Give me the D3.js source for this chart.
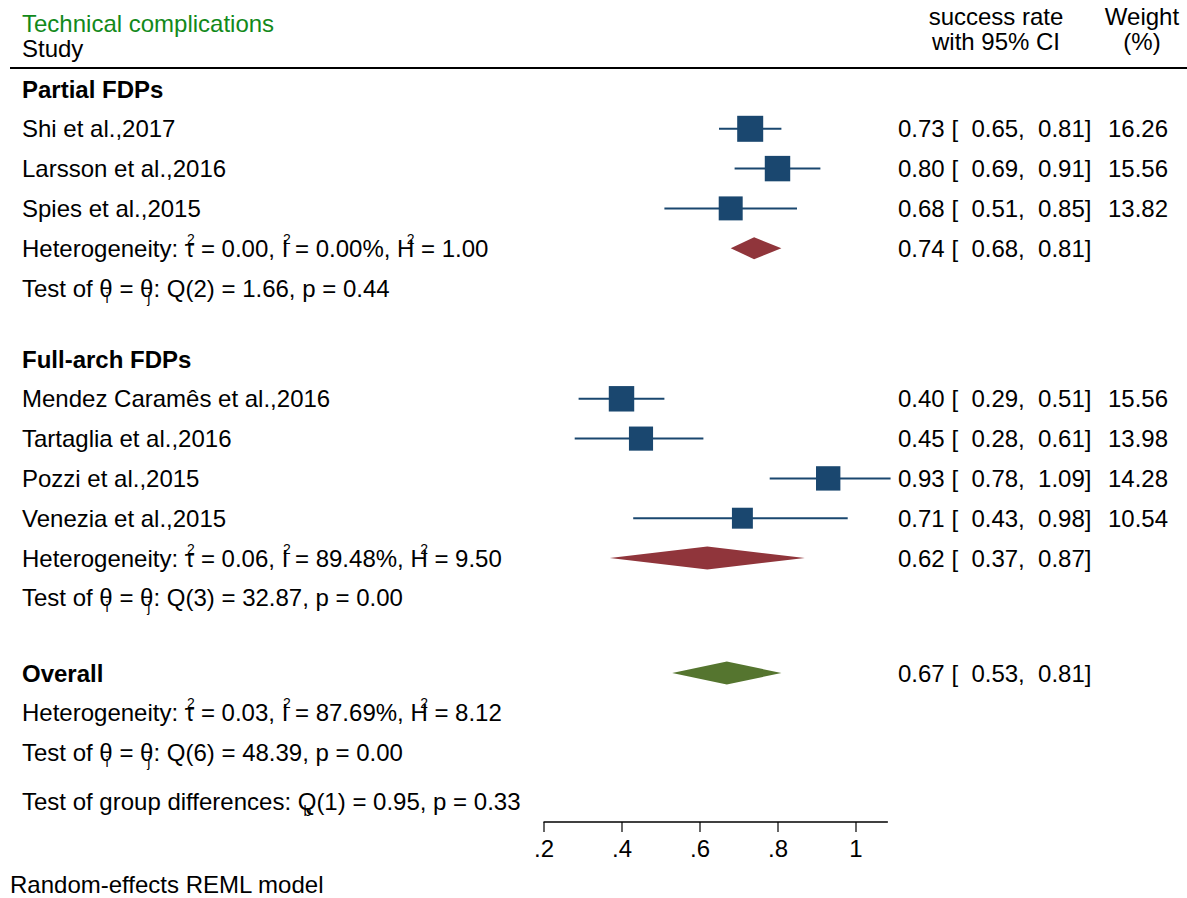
<!DOCTYPE html>
<html><head><meta charset="utf-8">
<script src="https://cdn.jsdelivr.net/npm/d3@7"></script>
<style>
body{margin:0;background:#fff}
text{font-family:"Liberation Sans",Arial,Helvetica,sans-serif;fill:#000;white-space:pre}
</style>
</head><body>
<svg id="chart" width="1187" height="898"></svg>
<script>
// ---- data ----
const studies = ["Shi et al.,2017","Larsson et al.,2016","Spies et al.,2015",
  "Mendez Caramês et al.,2016","Tartaglia et al.,2016","Pozzi et al.,2015","Venezia et al.,2015"];
const studyGroup = [0,0,0,1,1,1,1];
const successRate = [0.73,0.80,0.68,0.40,0.45,0.93,0.71];
const ciLower = [0.65,0.69,0.51,0.29,0.28,0.78,0.43];
const ciUpper = [0.81,0.91,0.85,0.51,0.61,1.09,0.98];
const weights = [16.26,15.56,13.82,15.56,13.98,14.28,10.54];

const groups = ["Partial FDPs","Full-arch FDPs"];
const groupRate = [0.74,0.62];
const groupLower = [0.68,0.37];
const groupUpper = [0.81,0.87];
const groupTau2 = ["0.00","0.06"];
const groupI2 = ["0.00%","89.48%"];
const groupH2 = ["1.00","9.50"];
const groupQdf = ["2","3"];
const groupQ = ["1.66","32.87"];
const groupP = ["0.44","0.00"];

const overallRate = 0.67, overallLower = 0.53, overallUpper = 0.81;
const overallTau2 = "0.03", overallI2 = "87.69%", overallH2 = "8.12";
const overallQdf = "6", overallQ = "48.39", overallP = "0.00";
const diffQdf = "1", diffQ = "0.95", diffP = "0.33";

const axisTicks = [0.2,0.4,0.6,0.8,1];
const tickLabels = [".2",".4",".6",".8","1"];

// ---- layout ----
const svg = d3.select("#chart");
const FS = 24, SS = 14;
const navy = "#1a476f", maroon = "#90353b", olive = "#55752f", titleGreen = "#12891a";
const x = d3.scaleLinear().domain([0.2, 1.0]).range([543.5, 855.5]);
const axisEnd = 1.083;
const rowStep = 39.8;
const groupTop = [89, 359];
const overallY = 673;
const textX = 22, valueX = 898, weightX = 1168;
const fmt = d3.format(".2f");
const base = y => y + 8.5;

function plain(txt, xx, baseline, opts = {}) {
  const t = svg.append("text").attr("x", xx).attr("y", baseline)
    .attr("font-size", opts.size || FS).text(txt);
  if (opts.anchor) t.attr("text-anchor", opts.anchor);
  if (opts.bold) t.attr("font-weight", "bold");
  if (opts.fill) t.style("fill", opts.fill);
  return t;
}
const row = (txt, xx, y, opts) => plain(txt, xx, base(y), opts);

// rich text: segments of {t}, {sup, w} (placed over preceding glyph of width w), {sub}
function rich(segs, xx, y) {
  const t = svg.append("text").attr("x", xx).attr("y", base(y)).attr("font-size", FS);
  let pendingDy = 0, pendingDx = 0;
  segs.forEach(s => {
    if (s.t !== undefined) {
      t.append("tspan").attr("dx", pendingDx).attr("dy", pendingDy).text(s.t);
      pendingDy = 0; pendingDx = 0;
    } else if (s.sup !== undefined) {
      const sw = 7.8;
      t.append("tspan").attr("font-size", SS)
        .attr("dx", -(s.w / 2 + sw / 2) + (s.off || 0)).attr("dy", -13).text(s.sup);
      pendingDy = 13; pendingDx = s.w / 2 - sw / 2 - (s.off || 0);
    } else if (s.sub !== undefined) {
      const sw = s.sw;
      t.append("tspan").attr("font-size", SS)
        .attr("dx", -sw - s.back).attr("dy", 6).text(s.sub);
      pendingDy = -6; pendingDx = s.back;
    }
  });
  return t;
}

function hetLine(tau2, i2, h2, y) {
  rich([{t: "Heterogeneity: τ"}, {sup: "2", w: 10.5, off: 2},
        {t: " = " + tau2 + ", I"}, {sup: "2", w: 6.7, off: 2},
        {t: " = " + i2 + ", H"}, {sup: "2", w: 17.3, off: 5},
        {t: " = " + h2}], textX, y);
}
function testLine(df, q, p, y) {
  rich([{t: "Test of θ"}, {sub: "i", sw: 3.1, back: 4},
        {t: " = θ"}, {sub: "j", sw: 3.1, back: 3},
        {t: ": Q(" + df + ") = " + q + ", p = " + p}], textX, y);
}
function ciText(r, lo, hi) {
  return fmt(r) + " [  " + fmt(lo) + ",  " + fmt(hi) + "]";
}
function diamond(r, lo, hi, y, color, hh) {
  const pts = [[x(lo), y], [x(r), y - hh], [x(hi), y], [x(r), y + hh]];
  svg.append("path").attr("d", d3.line()(pts) + "Z").attr("fill", color);
}

// ---- header ----
plain("Technical complications", textX, 31.5, {fill: titleGreen});
plain("Study", textX, 56.5);
plain("success rate", 996, 25, {anchor: "middle"});
plain("with 95% CI", 996, 50, {anchor: "middle"});
plain("Weight", 1142, 25, {anchor: "middle"});
plain("(%)", 1142, 50, {anchor: "middle"});
svg.append("line").attr("x1", 10).attr("x2", 1187).attr("y1", 68).attr("y2", 68)
  .attr("stroke", "#000").attr("stroke-width", 2);

// ---- groups ----
const sideK = 6.45;
groups.forEach((g, gi) => {
  const top = groupTop[gi];
  row(g, textX, top, {bold: true});
  const idx = d3.range(studies.length).filter(i => studyGroup[i] === gi);
  idx.forEach((i, k) => {
    const y = top + (k + 1) * rowStep;
    row(studies[i], textX, y);
    svg.append("line").attr("x1", x(ciLower[i])).attr("x2", x(ciUpper[i]))
      .attr("y1", y).attr("y2", y).attr("stroke", navy).attr("stroke-width", 2);
    const side = sideK * Math.sqrt(weights[i]);
    svg.append("rect").attr("x", x(successRate[i]) - side / 2).attr("y", y - side / 2)
      .attr("width", side).attr("height", side).attr("fill", navy);
    row(ciText(successRate[i], ciLower[i], ciUpper[i]), valueX, y);
    row(fmt(weights[i]), weightX, y, {anchor: "end"});
  });
  const hy = top + (idx.length + 1) * rowStep;
  hetLine(groupTau2[gi], groupI2[gi], groupH2[gi], hy);
  diamond(groupRate[gi], groupLower[gi], groupUpper[gi], hy, maroon, gi === 0 ? 11 : 11.5);
  row(ciText(groupRate[gi], groupLower[gi], groupUpper[gi]), valueX, hy);
  testLine(groupQdf[gi], groupQ[gi], groupP[gi], hy + rowStep);
});

// ---- overall ----
row("Overall", textX, overallY, {bold: true});
diamond(overallRate, overallLower, overallUpper, overallY, olive, 11.5);
row(ciText(overallRate, overallLower, overallUpper), valueX, overallY);
hetLine(overallTau2, overallI2, overallH2, overallY + rowStep);
testLine(overallQdf, overallQ, overallP, overallY + 2 * rowStep);
rich([{t: "Test of group differences: Q"}, {sub: "b", sw: 7.8, back: 5},
      {t: "(" + diffQdf + ") = " + diffQ + ", p = " + diffP}], textX, 801);

// ---- axis ----
const axisY = 822;
const ax = svg.append("g").attr("transform", `translate(0,${axisY})`)
  .call(d3.axisBottom(x).tickValues(axisTicks).tickFormat((d, i) => tickLabels[i])
    .tickSize(10).tickPadding(8));
ax.select(".domain").remove();
ax.insert("line", ":first-child").attr("x1", x(0.2)).attr("x2", x(axisEnd))
  .attr("stroke", "#000").attr("stroke-width", 1.5);
ax.selectAll(".tick line").attr("stroke", "#000").attr("stroke-width", 1.2);
ax.selectAll(".tick text").attr("font-size", FS)
  .attr("font-family", '"Liberation Sans",Arial,sans-serif').style("fill", "#000");

plain("Random-effects REML model", 10, 893);
</script>
</body></html>
